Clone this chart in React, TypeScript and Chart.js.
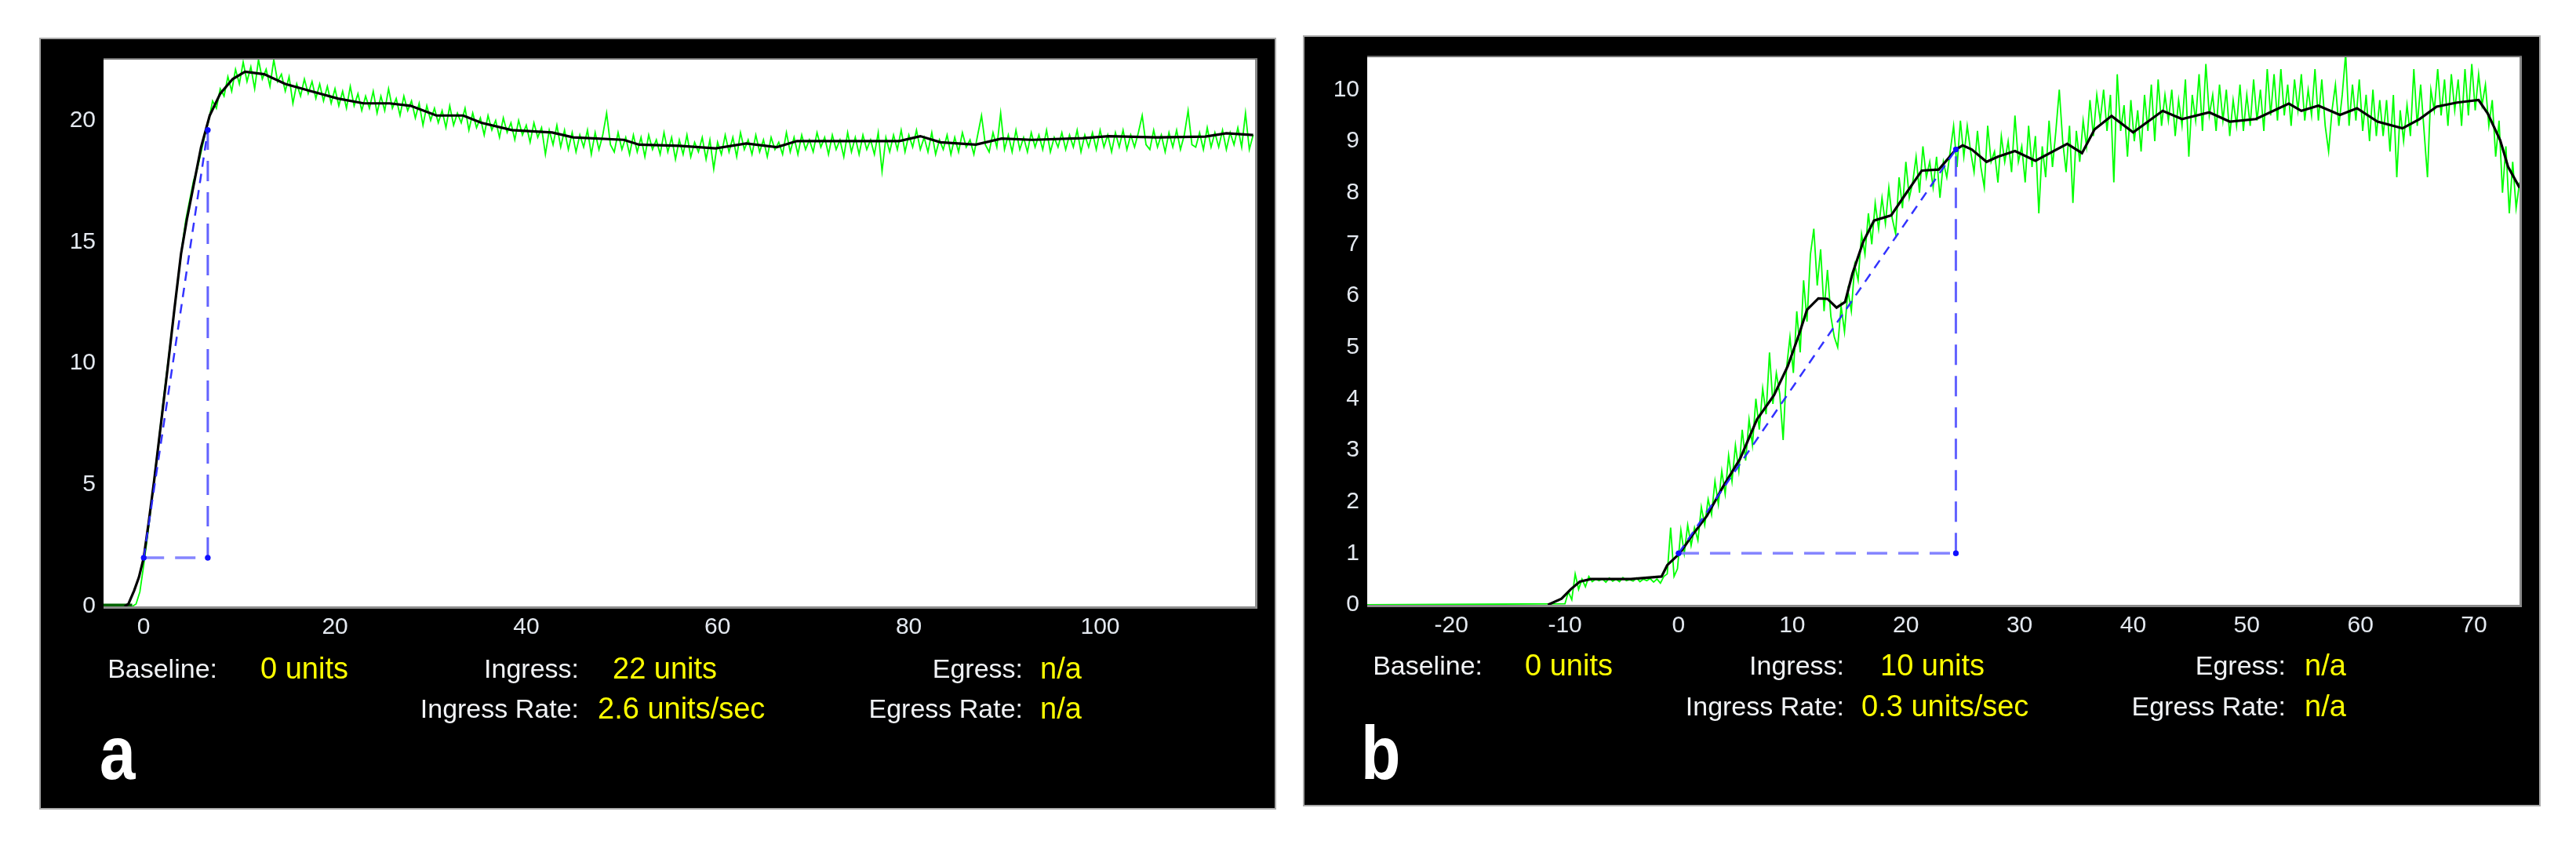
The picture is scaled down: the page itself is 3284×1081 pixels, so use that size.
import React, { useEffect, useRef } from "react";
import { Chart, registerables } from "chart.js";

Chart.register(...registerables);

// ---------------- Panel a ----------------
const A_X_TICKS = [0, 20, 40, 60, 80, 100];
const A_Y_TICKS = [0, 5, 10, 15, 20];
const A_X_RANGE = [-4.2, 116.2];
const A_Y_RANGE = [0, 22.5];
const A_RECORD_START = -4.2;
const A_GREEN_START = -4.0;
const A_GREEN_STEP = 0.4;
const A_GREEN = [
  0, 0, 0, 0, 0, 0, 0, 0, 0.1, 0.6,
  1.7, 2.9, 4.2, 5.6, 6.9, 8.3, 9.6, 10.9, 12.2, 13.5,
  14.8, 15.9, 16.7, 17.5, 18.0, 18.7, 19.4, 20.0, 20.8, 20.5,
  21.3, 21.0, 21.8, 21.2, 22.1, 21.5, 22.4, 21.6, 22.2, 21.3,
  22.5, 21.7, 22.1, 21.4, 22.5, 21.6, 21.9, 21.2, 21.8, 20.7,
  21.5, 21.0, 21.7, 21.1, 21.6, 20.9, 21.5, 20.8, 21.4, 20.7,
  21.3, 20.6, 21.2, 20.5, 21.4, 20.6, 21.1, 20.4, 21.0, 20.5,
  21.2, 20.3, 21.0, 20.4, 21.3, 20.5, 20.9, 20.2, 21.0, 20.4,
  20.8, 20.1, 20.7, 19.8, 20.6, 20.0, 20.5, 19.9, 20.4, 19.7,
  20.6, 19.8, 20.3, 19.9, 20.5, 19.6, 20.3, 19.7, 20.1, 19.4,
  20.2, 19.6, 20.0, 19.3, 20.1, 19.5, 19.9, 19.2, 20.0, 19.4,
  19.8, 19.1, 19.9, 19.3, 19.7, 18.6, 19.6, 19.0, 19.8, 18.9,
  19.6, 18.8, 19.5, 18.7, 19.4, 18.9, 19.6, 18.6, 19.5, 18.8,
  19.4, 20.3, 19.0, 18.7, 19.5, 18.8, 19.3, 18.6, 19.4, 18.7,
  19.3, 18.5, 19.4, 18.8, 19.2, 18.6, 19.5, 18.7, 19.3, 18.4,
  19.2, 18.6, 19.4, 18.5, 19.1, 18.7, 19.3, 18.4, 19.2, 18.0,
  19.1, 18.6, 19.4, 18.7, 19.3, 18.5, 19.5, 18.8, 19.2, 18.6,
  19.4, 18.7, 19.2, 18.5, 19.3, 18.8, 19.1, 18.6, 19.5, 18.7,
  19.3, 18.6, 19.4, 18.8, 19.2, 18.7, 19.5, 18.9, 19.3, 18.6,
  19.4, 18.8, 19.2, 18.5, 19.5, 18.7, 19.3, 18.6, 19.4, 18.8,
  19.2, 18.6, 19.5, 17.9, 19.3, 18.7, 19.4, 18.8, 19.6, 18.7,
  19.4, 18.9, 19.6, 18.8, 19.3, 18.7, 19.5, 18.6, 19.2, 18.8,
  19.4, 18.6, 19.3, 18.7, 19.5, 18.9, 19.2, 18.6, 19.4, 20.2,
  19.0, 18.7, 19.5, 18.9, 20.3, 18.8, 19.4, 18.7, 19.6, 18.8,
  19.3, 18.7, 19.5, 18.9, 19.4, 18.8, 19.6, 18.7, 19.3, 18.9,
  19.5, 18.8, 19.4, 18.9, 19.6, 18.7, 19.4, 18.9, 19.5, 18.8,
  19.6, 18.9, 19.4, 18.7, 19.5, 18.9, 19.6, 18.8, 19.4, 18.9,
  19.5, 20.2, 19.0, 18.8, 19.6, 18.9, 19.4, 18.7, 19.5, 18.9,
  19.6, 18.8, 19.4, 20.4, 19.0, 18.9, 19.5, 18.8, 19.7, 18.9,
  19.5, 18.9, 19.6, 18.8, 19.5, 19.0, 19.7, 18.9, 20.3, 18.8,
  19.4,
];
const A_SMOOTH_X = [
  -2.0, -1.6, -1.0, -0.5, 0, 0.5, 1.1, 1.8, 2.5, 3.2, 3.9, 4.5, 5.2, 6.0, 6.9,
  8.0, 9.3, 10.6, 12.6, 14.8, 17.5, 20.3, 23, 25.7, 27.9, 30.6, 33.4, 35.3,
  38.5, 42.7, 44.9, 50.2, 51.8, 56, 59.8, 63, 66.2, 68.3, 74.7, 79, 81.2,
  83.3, 87, 89.7, 92.9, 98.2, 100.9, 106, 111, 113.2, 116,
];
const A_SMOOTH_Y = [
  0, 0.1, 0.65, 1.2, 2.0, 3.4, 5.2, 7.5, 9.8, 12.2, 14.5, 15.9, 17.3, 18.9, 20.2,
  21.1, 21.7, 22.0, 21.9, 21.5, 21.2, 20.9, 20.7, 20.7, 20.6, 20.2, 20.2, 19.9,
  19.6, 19.5, 19.3, 19.2, 19.0, 18.95, 18.85, 19.05, 18.9, 19.15, 19.15, 19.15, 19.35,
  19.1, 19.0, 19.25, 19.2, 19.27, 19.35, 19.3, 19.33, 19.47, 19.4,
];
const A_RATE_FROM = [0, 2.0];
const A_RATE_TO = [6.7, 19.6];
const A_LABELS = ["Baseline:", "Ingress:", "Ingress Rate:", "Egress:", "Egress Rate:"];
const A_VALUES = ["0 units", "22 units", "2.6 units/sec", "n/a", "n/a"];
const A_LETTER = "a";

// ---------------- Panel b ----------------
const B_X_TICKS = [-20, -10, 0, 10, 20, 30, 40, 50, 60, 70];
const B_Y_TICKS = [0, 1, 2, 3, 4, 5, 6, 7, 8, 9, 10];
const B_X_RANGE = [-27.4, 74.0];
const B_Y_RANGE = [0, 10.63];
const B_RECORD_START = -27.4;
const B_GREEN_START = -10.0;
const B_GREEN_STEP = 0.3;
const B_GREEN = [
  0.02, 0.25, 0.1, 0.6, 0.3, 0.5, 0.35, 0.55, 0.45, 0.5,
  0.47, 0.5, 0.44, 0.52, 0.46, 0.5, 0.45, 0.53, 0.47, 0.49,
  0.46, 0.52, 0.45, 0.5, 0.47, 0.51, 0.44, 0.5, 0.42, 0.55,
  0.6, 1.5, 0.55, 0.7, 1.45, 1.0, 1.55, 1.15, 1.5, 1.25,
  1.9, 1.55, 2.05, 1.75, 2.4, 1.95, 2.6, 2.15, 2.9, 2.4,
  3.1, 2.6, 3.4, 2.8, 3.6, 3.1, 4.0, 3.4, 4.2, 3.7,
  4.9, 3.9, 4.5, 4.1, 3.2, 4.6, 5.2, 4.5, 5.7, 4.9,
  6.3, 5.5, 6.8, 7.3, 6.2, 6.9, 5.7, 6.5, 5.6, 5.2,
  5.0, 5.8, 5.3, 6.1, 5.7, 6.6, 6.3, 7.2, 6.8, 7.6,
  7.0, 7.8, 7.3, 7.9, 7.4, 8.1, 7.5, 7.2, 8.3, 7.7,
  8.6, 7.9, 8.2, 8.7, 8.0, 8.9, 8.3, 8.6, 8.1, 8.7,
  7.9, 8.6, 8.3, 8.8, 9.3, 8.5, 9.4, 8.7, 9.3, 8.8,
  8.4, 9.2, 8.5, 8.1, 9.3, 8.6, 8.8, 8.2, 9.1, 8.6,
  9.0, 8.4, 9.5, 8.6, 8.9, 8.2, 9.3, 8.5, 9.1, 7.6,
  8.9, 8.3, 9.4, 8.5, 9.2, 10.0, 9.0, 8.4, 9.3, 7.8,
  9.2, 8.6, 9.4, 8.9, 9.8, 9.1, 9.9, 9.4, 10.0, 9.2,
  9.9, 8.2, 10.3, 9.2, 9.7, 8.7, 9.8, 9.0, 9.6, 8.8,
  9.9, 9.2, 10.1, 9.0, 10.2, 9.3, 9.9, 9.4, 10.0, 9.1,
  9.8, 9.3, 10.2, 8.7, 9.9, 9.4, 10.3, 9.2, 10.5, 9.5,
  9.9, 9.2, 10.1, 9.4, 10.0, 9.1, 9.8, 9.3, 10.1, 9.2,
  9.9, 9.3, 10.2, 9.4, 10.0, 9.2, 10.4, 9.5, 10.3, 9.4,
  10.4, 9.5, 10.1, 9.3, 10.2, 9.6, 10.3, 9.4, 10.0, 9.5,
  10.4, 9.4, 10.2, 9.3, 8.8, 9.6, 10.1, 9.3, 9.9, 10.7,
  9.3, 10.1, 9.4, 10.2, 9.2, 9.9, 9.0, 10.0, 9.1, 9.8,
  9.1, 9.8, 8.8, 9.9, 8.3, 9.6, 9.0, 9.7, 9.1, 10.4,
  9.3, 10.1, 9.2, 8.3, 10.0, 9.6, 10.4, 9.5, 10.2, 9.3,
  10.3, 9.6, 10.2, 9.3, 10.4, 9.5, 10.5, 9.6, 10.3, 9.7,
  10.1, 9.3, 9.8, 8.7, 9.4, 8.0, 8.9, 7.6, 8.6, 7.7,
  8.2,
];
const B_SMOOTH_X = [
  -11.5, -10.3, -9.5, -8.7, -7.7, -4.2, -1.5, -1.0, 0.1, 1.2, 2.5, 3.9, 5.4, 6.9,
  8.4, 9.6, 10.6, 11.3, 12.3, 13.1, 13.9, 14.65, 15.3, 16.25, 17.2, 18.7, 19.9,
  21.4, 22.9, 24.4, 25.0, 25.8, 27.1, 28.1, 29.6, 31.4, 34.2, 35.5, 36.6, 38.1,
  40, 42.6, 44.3, 46.7, 48.5, 50.8, 53.7, 54.8, 56.3, 58.2, 59.7, 61.5, 63.7,
  65.2, 66.7, 68.5, 70.4, 71.2, 72.3, 73.0, 74.0,
];
const B_SMOOTH_Y = [
  0, 0.12, 0.3, 0.45, 0.5, 0.5, 0.55, 0.77, 1.0, 1.35, 1.73, 2.29, 2.83, 3.6,
  4.07, 4.63, 5.25, 5.73, 5.95, 5.94, 5.77, 5.88, 6.43, 7.05, 7.46, 7.56, 7.95,
  8.43, 8.45, 8.84, 8.92, 8.84, 8.6, 8.7, 8.81, 8.62, 8.95, 8.77, 9.23, 9.49,
  9.17, 9.59, 9.43, 9.56, 9.38, 9.43, 9.73, 9.59, 9.69, 9.51, 9.64, 9.38, 9.25,
  9.43, 9.67, 9.75, 9.8, 9.54, 9.02, 8.5, 8.1,
];
const B_RATE_FROM = [0, 1.0];
const B_RATE_TO = [24.4, 8.84];
const B_LABELS = ["Baseline:", "Ingress:", "Ingress Rate:", "Egress:", "Egress Rate:"];
const B_VALUES = ["0 units", "10 units", "0.3 units/sec", "n/a", "n/a"];
const B_LETTER = "b";

// ---------------- layout (page pixels) ----------------
const FONT = "'Liberation Sans', Arial, Helvetica, sans-serif";

const LAYOUT_A = {
  box: { left: 50, top: 48, width: 1577, height: 984 },
  pad: { top: 19, right: 27 },
  yAxisWidth: 82,
  xAxisHeight: 259,
  labelRight: [277, 738, 738, 1304, 1304],
  valueLeft: [332, 781, 762, 1326, 1326],
  rowCy: [852, 852, 903, 852, 903],
  letter: { left: 127, baseline: 993 },
};

const LAYOUT_B = {
  box: { left: 1661, top: 45, width: 1578, height: 983 },
  pad: { top: 19, right: 27 },
  yAxisWidth: 82,
  xAxisHeight: 257,
  labelRight: [1890, 2351, 2351, 2914, 2914],
  valueLeft: [1944, 2397, 2373, 2938, 2938],
  rowCy: [848, 848, 900, 848, 900],
  letter: { left: 1735, baseline: 993 },
};

const framePlugin = {
  id: "frame",
  beforeDraw(chart: any) {
    const { ctx, width, height, chartArea: a } = chart;
    ctx.save();
    ctx.fillStyle = "#000";
    ctx.fillRect(0, 0, width, height);
    ctx.strokeStyle = "#a9a9a9";
    ctx.lineWidth = 2;
    ctx.strokeRect(1, 1, width - 2, height - 2);
    ctx.fillStyle = "#fff";
    ctx.fillRect(a.left, a.top, a.right - a.left, a.bottom - a.top);
    ctx.restore();
  },
  afterDatasetsDraw(chart: any) {
    const { ctx, chartArea: a } = chart;
    ctx.save();
    ctx.strokeStyle = "#8c8c8c";
    ctx.lineWidth = 3;
    ctx.beginPath();
    ctx.moveTo(a.left, a.bottom + 1.5);
    ctx.lineTo(a.right + 3, a.bottom + 1.5);
    ctx.stroke();
    ctx.beginPath();
    ctx.moveTo(a.right + 1.5, a.top - 2);
    ctx.lineTo(a.right + 1.5, a.bottom + 3);
    ctx.stroke();
    ctx.strokeStyle = "#6e6e6e";
    ctx.lineWidth = 2;
    ctx.beginPath();
    ctx.moveTo(a.left, a.top - 1);
    ctx.lineTo(a.right + 3, a.top - 1);
    ctx.stroke();
    ctx.restore();
  },
};

type PanelData = {
  xTicks: number[];
  yTicks: number[];
  xRange: number[];
  yRange: number[];
  recordStart: number;
  greenStart: number;
  greenStep: number;
  green: number[];
  smoothX: number[];
  smoothY: number[];
  rateFrom: number[];
  rateTo: number[];
  labels: string[];
  values: string[];
  letter: string;
};

const PANEL_A: PanelData = {
  xTicks: A_X_TICKS, yTicks: A_Y_TICKS, xRange: A_X_RANGE, yRange: A_Y_RANGE,
  recordStart: A_RECORD_START, greenStart: A_GREEN_START, greenStep: A_GREEN_STEP,
  green: A_GREEN, smoothX: A_SMOOTH_X, smoothY: A_SMOOTH_Y,
  rateFrom: A_RATE_FROM, rateTo: A_RATE_TO, labels: A_LABELS, values: A_VALUES, letter: A_LETTER,
};
const PANEL_B: PanelData = {
  xTicks: B_X_TICKS, yTicks: B_Y_TICKS, xRange: B_X_RANGE, yRange: B_Y_RANGE,
  recordStart: B_RECORD_START, greenStart: B_GREEN_START, greenStep: B_GREEN_STEP,
  green: B_GREEN, smoothX: B_SMOOTH_X, smoothY: B_SMOOTH_Y,
  rateFrom: B_RATE_FROM, rateTo: B_RATE_TO, labels: B_LABELS, values: B_VALUES, letter: B_LETTER,
};

function buildConfig(d: PanelData, L: any): any {
  const green = [{ x: d.recordStart, y: 0 }].concat(
    d.green.map((y, i) => ({ x: d.greenStart + i * d.greenStep, y }))
  );
  const smooth = d.smoothX.map((x, i) => ({ x, y: d.smoothY[i] }));
  const [x0, y0] = d.rateFrom;
  const [x1, y1] = d.rateTo;
  const tickFont = { family: FONT, size: 30 };
  const isZero = (c: any) => c.p0.parsed.y === 0 && c.p1.parsed.y === 0;
  const dot = { pointRadius: 3.5, pointBackgroundColor: "#1010ff", pointBorderWidth: 0 };
  return {
    type: "line",
    data: {
      datasets: [
        {
          data: [{ x: x0, y: y0 }, { x: x1, y: y1 }],
          borderColor: "rgba(40,40,255,0.95)",
          borderWidth: 2.5,
          borderDash: [12, 9],
          order: 0,
          ...dot,
        },
        {
          data: [{ x: x0, y: y0 }, { x: x1, y: y0 }],
          borderColor: "rgba(120,120,255,0.9)",
          borderWidth: 3.5,
          borderDash: [26, 14],
          order: 0,
          ...dot,
        },
        {
          data: [{ x: x1, y: y0 }, { x: x1, y: y1 }],
          borderColor: "rgba(70,70,255,0.85)",
          borderWidth: 3,
          borderDash: [26, 14],
          order: 0,
          ...dot,
        },
        {
          data: smooth,
          borderColor: "#000",
          borderWidth: 3.2,
          pointRadius: 0,
          order: 1,
        },
        {
          data: green,
          borderColor: "#00ff00",
          borderWidth: 1.8,
          pointRadius: 0,
          clip: 0,
          order: 2,
          segment: {
            borderColor: (c: any) => (isZero(c) ? "#006400" : "#00ff00"),
            borderWidth: (c: any) => (isZero(c) ? 7 : 1.8),
          },
        },
      ],
    },
    options: {
      responsive: false,
      animation: false,
      events: [],
      layout: { padding: { left: 0, top: L.pad.top, right: L.pad.right, bottom: 0 } },
      plugins: { legend: { display: false }, tooltip: { enabled: false } },
      elements: { line: { tension: 0 } },
      scales: {
        x: {
          type: "linear",
          min: d.xRange[0],
          max: d.xRange[1],
          grid: { display: false, drawTicks: false },
          border: { display: false },
          ticks: {
            color: "#e3e8ef",
            font: tickFont,
            padding: 9,
            maxRotation: 0,
            autoSkip: false,
            callback: (v: any) => String(v),
          },
          afterBuildTicks: (s: any) => {
            s.ticks = d.xTicks.map((v) => ({ value: v }));
          },
          afterFit: (s: any) => {
            s.height = L.xAxisHeight;
          },
        },
        y: {
          type: "linear",
          min: d.yRange[0],
          max: d.yRange[1],
          grid: { display: false, drawTicks: false },
          border: { display: false },
          ticks: {
            color: "#e3e8ef",
            font: tickFont,
            padding: 10,
            autoSkip: false,
            callback: (v: any) => String(v),
          },
          afterBuildTicks: (s: any) => {
            s.ticks = d.yTicks.map((v) => ({ value: v }));
          },
          afterFit: (s: any) => {
            s.width = L.yAxisWidth;
          },
        },
      },
    },
    plugins: [framePlugin],
  };
}

function Panel({ data, layout }: { data: PanelData; layout: any }) {
  const ref = useRef<HTMLCanvasElement | null>(null);
  useEffect(() => {
    if (!ref.current) return;
    const chart = new Chart(ref.current, buildConfig(data, layout));
    return () => chart.destroy();
  }, [data, layout]);
  const b = layout.box;
  const labelSize = 34;
  const valueSize = 38;
  const letterSize = 96;
  return (
    <>
      <canvas
        ref={ref}
        width={b.width}
        height={b.height}
        style={{ position: "absolute", left: b.left, top: b.top, width: b.width, height: b.height }}
      />
      {data.labels.map((t, i) => (
        <div
          key={"l" + i}
          style={{
            position: "absolute",
            left: layout.labelRight[i],
            top: layout.rowCy[i] - 0.49 * labelSize,
            transform: "translateX(-100%)",
            fontFamily: FONT,
            fontSize: labelSize,
            lineHeight: `${labelSize}px`,
            color: "#f1f3f6",
            whiteSpace: "nowrap",
          }}
        >
          {t}
        </div>
      ))}
      {data.values.map((t, i) => (
        <div
          key={"v" + i}
          style={{
            position: "absolute",
            left: layout.valueLeft[i],
            top: layout.rowCy[i] - 0.49 * valueSize,
            fontFamily: FONT,
            fontSize: valueSize,
            lineHeight: `${valueSize}px`,
            color: "#ffff00",
            whiteSpace: "nowrap",
          }}
        >
          {t}
        </div>
      ))}
      <div
        style={{
          position: "absolute",
          left: layout.letter.left,
          top: layout.letter.baseline - 0.8465 * letterSize,
          fontFamily: FONT,
          fontWeight: 700,
          fontSize: letterSize,
          lineHeight: `${letterSize}px`,
          color: "#ffffff",
          transform: "scaleX(0.86)",
          transformOrigin: "left top",
        }}
      >
        {data.letter}
      </div>
    </>
  );
}

export default function App() {
  return (
    <div
      style={{
        position: "absolute",
        left: 0,
        top: 0,
        width: 3284,
        height: 1081,
        background: "#fff",
        overflow: "hidden",
      }}
    >
      <Panel data={PANEL_A} layout={LAYOUT_A} />
      <Panel data={PANEL_B} layout={LAYOUT_B} />
    </div>
  );
}
